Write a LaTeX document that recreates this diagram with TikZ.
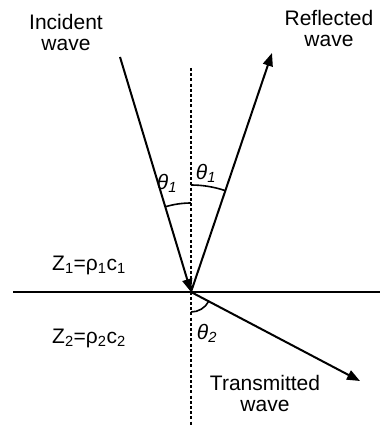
\documentclass[tikz,border=0pt]{standalone}
\usepackage{fontspec}
\setmainfont{Liberation Sans}
\usetikzlibrary{arrows.meta,angles}
\begin{document}
\begin{tikzpicture}[x=1pt,y=-1pt,
  ray/.style={line width=2pt},
  tip/.style={-{Triangle[length=13pt,width=10pt]}},
  lbl/.style={font=\fontsize{21}{21}\selectfont, align=center, inner sep=0pt},
  ang/.style={line width=1.6pt},
  thl/.style={font=\fontsize{21}{21}\selectfont\itshape, inner sep=0pt}]
\useasboundingbox[fill=white] (0,0) rectangle (380,425);
\coordinate (O) at (191,292);
\coordinate (Ntop) at (191,68);
\coordinate (Nbot) at (191,425);
\coordinate (I) at (120,57);
\coordinate (R) at (272,53);
\coordinate (T) at (360,381);
\coordinate (L) at (13,292);
\coordinate (Rt) at (380,292);
% interface
\draw[line width=2.4pt] (L) -- (Rt);
% normal
\draw[line width=1.3pt, dash pattern=on 3pt off 2.2pt] (Ntop) -- (Nbot);
% rays
\draw[ray,tip] (I) -- (O);
\draw[ray,tip] (O) -- (R);
\draw[ray,tip] (O) -- (T);
% angles
\pic[draw, ang, angle radius=89pt] {angle = Ntop--O--I};
\pic[draw, ang, angle radius=107pt] {angle = R--O--Ntop};
\pic[draw, ang, angle radius=20pt] {angle = Nbot--O--T};
% labels
\node[lbl] (inc) at (66,32) {Incident\\wave};
\node[lbl] (ref) at (329,28) {Reflected\\wave};
\node[lbl] (tra) at (265,393) {Transmitted\\wave};
\node[thl] (t1l) at (167,183) {θ\textsubscript{1}};
\node[thl] (t1r) at (206,173) {θ\textsubscript{1}};
\node[thl] (t2) at (207,333) {θ\textsubscript{2}};
\node[lbl] (z1) at (89,265) {Z\textsubscript{1}=ρ\textsubscript{1}c\textsubscript{1}};
\node[lbl] (z2) at (89,338) {Z\textsubscript{2}=ρ\textsubscript{2}c\textsubscript{2}};
\end{tikzpicture}
\end{document}
